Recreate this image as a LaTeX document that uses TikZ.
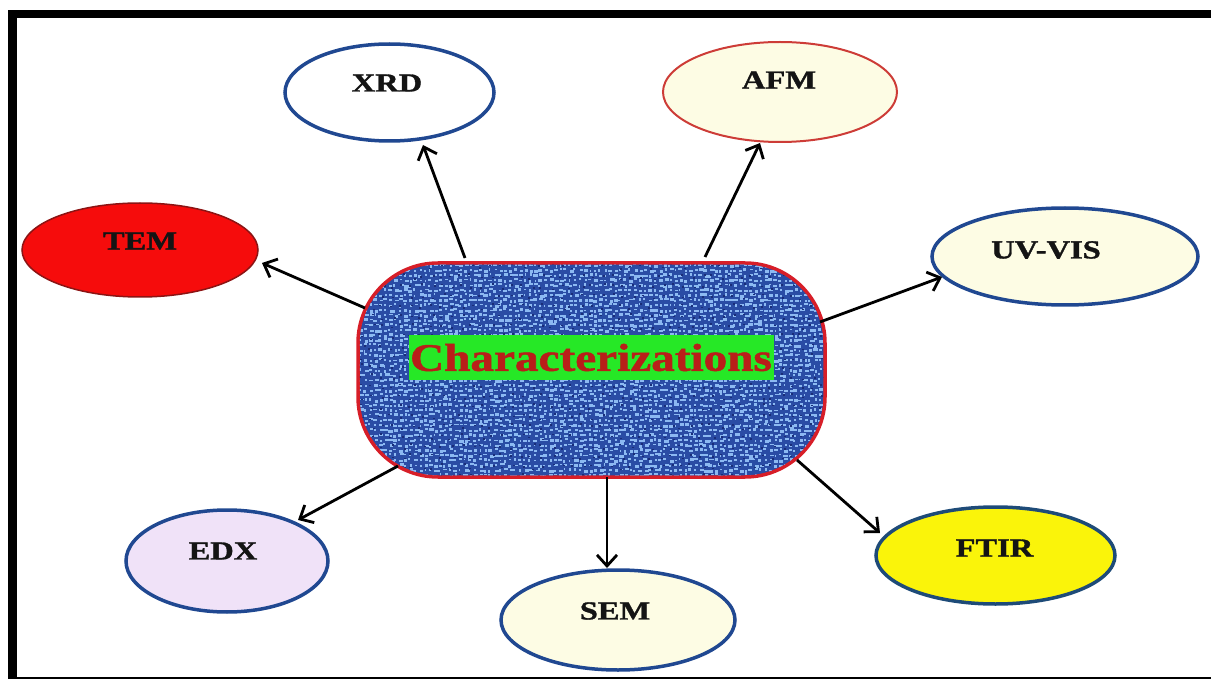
\documentclass[tikz,border=0pt]{standalone}
\usepackage{fontspec}
\usepackage{graphicx}
\setmainfont{Liberation Serif}[BoldFeatures={FakeBold=1.2}]
\usetikzlibrary{shapes.geometric,arrows.meta,calc}
\definecolor{ebblue}{RGB}{32,72,145}
\definecolor{cream}{RGB}{253,252,228}
\definecolor{afmred}{RGB}{205,60,55}
\definecolor{temred}{RGB}{246,12,12}
\definecolor{temedge}{RGB}{140,20,20}
\definecolor{ftiryel}{RGB}{250,244,10}
\definecolor{ftiredge}{RGB}{30,75,120}
\definecolor{lavender}{RGB}{240,226,248}
\definecolor{denim}{RGB}{42,76,165}
\definecolor{denimlight}{RGB}{140,185,242}
\definecolor{denimdark}{RGB}{25,45,120}
\definecolor{cred}{RGB}{215,30,40}
\definecolor{titlegreen}{RGB}{38,232,38}
\definecolor{titlered}{RGB}{185,30,25}
\definecolor{labtext}{RGB}{20,20,20}
\newcommand\stretchtxt[1]{\scalebox{1.25}[1]{#1}}
\begin{document}
\begin{tikzpicture}[x=1pt,y=-1pt,
  ell/.style={ellipse, inner sep=0pt, line width=3.5pt, draw=ebblue},
  lab/.style={font=\fontsize{26}{30}\selectfont\bfseries, text=labtext, inner sep=0pt},
  arr/.style={line width=2.8pt, black, -{Straight Barb[length=11pt,width=20pt]}},
  cbox/.style={rectangle, rounded corners=80pt, minimum width=467pt, minimum height=214pt,
    outer sep=0pt, draw=cred, line width=3.5pt, fill=denim},
  speck/.style={fill=denimlight},
  darkspeck/.style={fill=denimdark},
  titlebox/.style={rectangle, fill=titlegreen, minimum width=365pt, minimum height=45pt, inner sep=0pt,
    text=titlered, font=\fontsize{39}{44}\selectfont\bfseries}]
\useasboundingbox (0,0) rectangle (1211,679);
% frame
\fill[black] (8,10) rectangle (17,679);
\fill[black] (8,10) rectangle (1211,18.3);
\fill[black] (8,676.5) rectangle (1211,679);
% central node
\node[cbox] (c) at (591.5,370) {};
\begin{scope}
  \clip[rounded corners=78.25pt] ($(c.north west)+(1.75,1.75)$) rectangle ($(c.south east)+(-1.75,-1.75)$);
  \begin{scope}[shift={(c.north west)}]
    \pgfmathsetseed{11}
    \foreach \i in {0,...,92}{
      \foreach \j in {0,...,42}{
        \pgfmathsetmacro\dx{rnd*2.5}
        \pgfmathsetmacro\dy{rnd*2.5}
        \pgfmathsetmacro\ww{1.5+rnd*3}
        \pgfmathsetmacro\hh{1.5+rnd*1.5}
        \fill[speck] (\i*5+\dx,\j*5+\dy) rectangle ++(\ww,\hh);
      }
    }
    \foreach \i in {0,...,46}{
      \foreach \j in {0,...,21}{
        \pgfmathsetmacro\dx{rnd*6}
        \pgfmathsetmacro\dy{rnd*6}
        \fill[darkspeck] (\i*10+\dx,\j*10+\dy) rectangle ++(2,1.5);
      }
    }
  \end{scope}
\end{scope}
\node[titlebox] (title) at (591,357.5) {\scalebox{1.21}[1]{Characterizations}};
% satellites
\node[ell, fill=white, minimum width=209pt, minimum height=97pt,
  label={[lab,xshift=-2.5pt,yshift=9.5pt]center:\stretchtxt{XRD}}] (xrd) at (389.5,92.5) {};
\node[ell, fill=cream, draw=afmred, line width=2pt, minimum width=234pt, minimum height=100pt,
  label={[lab,xshift=-1pt,yshift=12pt]center:\stretchtxt{AFM}}] (afm) at (780,92) {};
\node[ell, fill=temred, draw=temedge, line width=1.5pt, minimum width=236pt, minimum height=94pt,
  label={[lab,yshift=9pt]center:\stretchtxt{TEM}}] (tem) at (140,250) {};
\node[ell, fill=cream, minimum width=266pt, minimum height=97pt,
  label={[lab,xshift=-19pt,yshift=6.5pt]center:\stretchtxt{UV-VIS}}] (uv) at (1065,256.5) {};
\node[ell, fill=lavender, minimum width=202pt, minimum height=102pt,
  label={[lab,xshift=-4pt,yshift=10pt]center:\stretchtxt{EDX}}] (edx) at (227,561) {};
\node[ell, fill=cream, minimum width=234pt, minimum height=100pt,
  label={[lab,xshift=-3pt,yshift=9pt]center:\stretchtxt{SEM}}] (sem) at (618,620) {};
\node[ell, fill=ftiryel, draw=ftiredge, minimum width=239pt, minimum height=97pt,
  label={[lab,xshift=-1pt,yshift=7.5pt]center:\stretchtxt{FTIR}}] (ftir) at (995.5,555.5) {};
% connectors
\draw[arr] ($(c.center)+(-126.5,-112)$) -- ($(xrd.center)+(33.5,52.5)$);
\draw[arr] ($(c.center)+(113.5,-113)$) -- ($(afm.center)+(-20,51)$);
\draw[arr] ($(c.center)+(-226.5,-62)$) -- ($(tem.center)+(122,13)$);
\draw[arr] ($(c.center)+(228.5,-48)$) -- ($(uv.center)+(-123,20.5)$);
\draw[arr] ($(c.center)+(-193.5,96)$) -- ($(edx.center)+(71,-41)$);
\draw[arr] ($(c.center)+(15.5,107)$) -- ($(sem.center)+(-11,-52)$);
\draw[arr] ($(c.center)+(205.5,90)$) -- ($(ftir.center)+(-115.5,-22.5)$);
\end{tikzpicture}
\end{document}
